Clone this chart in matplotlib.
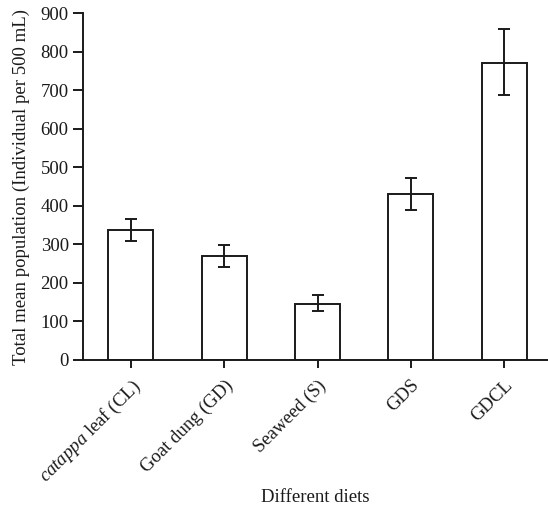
import matplotlib
matplotlib.use("Agg")
import matplotlib.pyplot as plt
import numpy as np

categories = ["$\\mathit{catappa}$ leaf (CL)", "Goat dung (GD)", "Seaweed (S)", "GDS", "GDCL"]
means = [337, 269, 146, 430, 772]
err_low = [28, 27, 20, 40, 84]
err_high = [30, 30, 22, 43, 88]
yticks = [0, 100, 200, 300, 400, 500, 600, 700, 800, 900]

plt.rcParams['font.family'] = ['Liberation Serif']
plt.rcParams['mathtext.fontset'] = 'custom'
plt.rcParams['mathtext.rm'] = 'Liberation Serif'
plt.rcParams['mathtext.it'] = 'Liberation Serif:italic'

fs = 13.5
fig = plt.figure(figsize=(5.48, 5.07), dpi=100)
ax = fig.add_axes([83.3/548, 1-360/507, 1-83.3/548, (360-13.3)/507])
x = np.arange(len(categories))
lw = 1.4
ax.bar(x, means, width=0.48, facecolor='white', edgecolor='#1a1a1a', linewidth=lw, zorder=2)
ax.errorbar(x, means, yerr=[err_low, err_high], fmt='none', ecolor='#1a1a1a',
            elinewidth=lw, capsize=4, capthick=lw, zorder=3)
ax.set_xlim(-0.51, 4.47)
ax.set_ylim(0, 900)
ax.set_yticks(yticks)
ax.set_xticks(x)
ax.set_xticklabels(categories, rotation=45, ha='right', rotation_mode='anchor', fontsize=fs)
ax.tick_params(axis='y', labelsize=fs, length=7.5, width=lw, direction='out', colors='#1a1a1a', pad=3)
ax.tick_params(axis='x', length=6, width=lw, direction='out', colors='#1a1a1a', pad=6)
for s in ['top', 'right']:
    ax.spines[s].set_visible(False)
for s in ['left', 'bottom']:
    ax.spines[s].set_linewidth(lw)
    ax.spines[s].set_color('#1a1a1a')
ax.set_ylabel("Total mean population (Individual per 500 mL)", fontsize=fs, color='#1a1a1a')
ax.yaxis.set_label_coords(-0.115, 0.5)
ax.set_xlabel("Different diets", fontsize=fs, color='#1a1a1a')
ax.xaxis.set_label_coords(0.5, -0.372)
fig.savefig("out.png", dpi=100)
